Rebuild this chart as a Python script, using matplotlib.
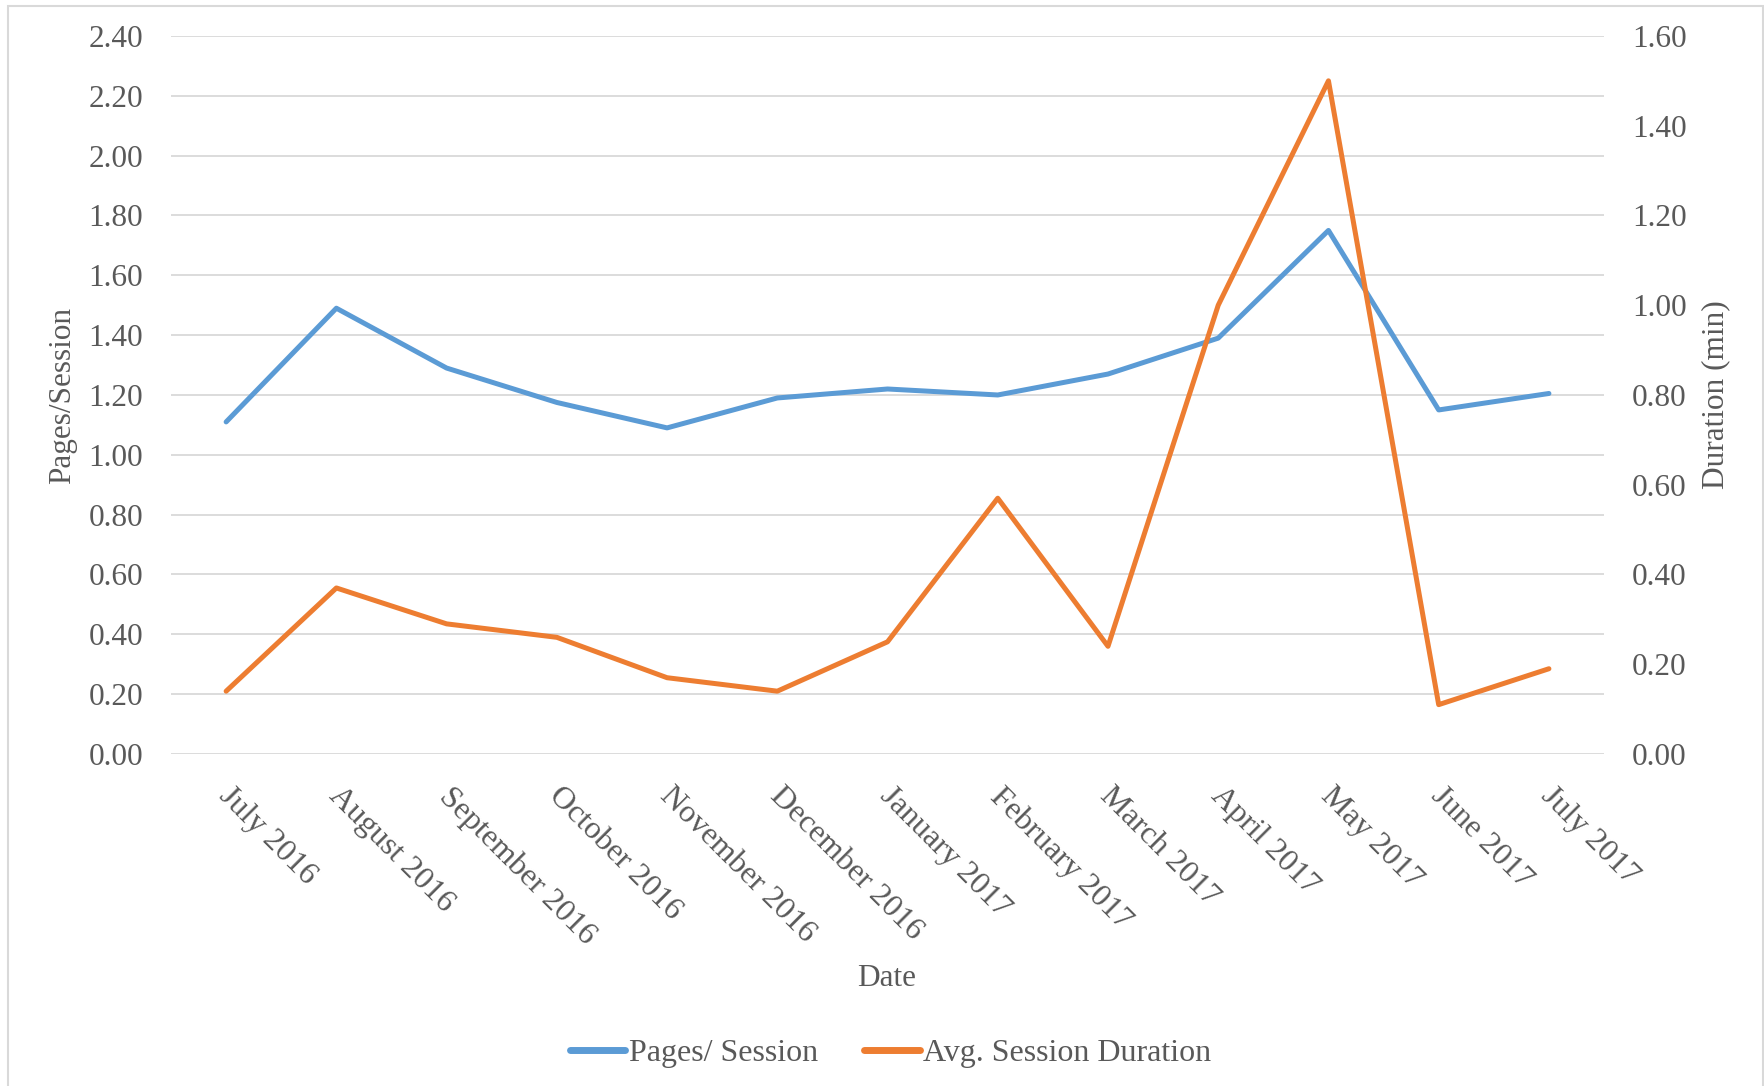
import matplotlib.pyplot as plt
import matplotlib.transforms as mtransforms
from matplotlib.patches import Rectangle

plt.rcParams['font.family'] = ['Liberation Serif', 'DejaVu Serif']

# monthly data
months = ['July 2016', 'August 2016', 'September 2016', 'October 2016',
          'November 2016', 'December 2016', 'January 2017', 'February 2017',
          'March 2017', 'April 2017', 'May 2017', 'June 2017', 'July 2017']
pages_per_session = [1.11, 1.49, 1.29, 1.175, 1.09, 1.19, 1.22, 1.20,
                     1.27, 1.39, 1.75, 1.15, 1.205]
avg_duration = [0.14, 0.37, 0.29, 0.26, 0.17, 0.14, 0.25, 0.57,
                0.24, 1.00, 1.50, 0.11, 0.19]
left_ticks = [0.0, 0.2, 0.4, 0.6, 0.8, 1.0, 1.2, 1.4, 1.6, 1.8, 2.0, 2.2, 2.4]
right_ticks = [0.0, 0.2, 0.4, 0.6, 0.8, 1.0, 1.2, 1.4, 1.6]

blue = '#5B9BD5'
orange = '#ED7D31'
grey_text = '#595959'
grid_col = '#D9D9D9'
fs = 22.5

fig = plt.figure(figsize=(17.65, 10.86), dpi=100)
ax = fig.add_axes([0.0969, 0.3057, 0.8119, 0.6612])
ax2 = ax.twinx()

x = list(range(len(months)))
l1, = ax.plot(x, pages_per_session, color=blue, lw=3.6, solid_joinstyle='round',
              solid_capstyle='round', label='Pages/ Session', zorder=3)
l2, = ax2.plot(x, avg_duration, color=orange, lw=3.6, solid_joinstyle='round',
               solid_capstyle='round', label='Avg. Session Duration', zorder=3)

ax.set_xlim(-0.5, len(months) - 0.5)
ax.set_ylim(0, 2.4)
ax2.set_ylim(0, 1.6)
ax.set_yticks(left_ticks)
ax.set_yticklabels(['%.2f' % v for v in left_ticks])
ax2.set_yticks(right_ticks)
ax2.set_yticklabels(['%.2f' % v for v in right_ticks])

for v in left_ticks:
    ax.axhline(v, color=grid_col, lw=1.3, zorder=0)

for a in (ax, ax2):
    for s in a.spines.values():
        s.set_visible(False)
    a.tick_params(length=0, labelsize=fs, labelcolor=grey_text)
ax.tick_params(axis='y', pad=20)
ax2.tick_params(axis='y', pad=20)

ax.set_xticks(x)
offset = mtransforms.ScaledTranslation(0.07, -0.23, fig.dpi_scale_trans)
ax.set_xticklabels(months, rotation=-45, ha='left', va='top', rotation_mode='anchor',
                   fontsize=23)
for lab in ax.get_xticklabels():
    lab.set_transform(lab.get_transform() + offset)

ax.set_ylabel('Pages/Session', fontsize=fs, color=grey_text, labelpad=8)
ax2.set_ylabel('Duration (min)', fontsize=fs, color=grey_text, rotation=90, labelpad=11)
fig.text(0.5026, 1 - 979 / 1086, 'Date', fontsize=fs, color=grey_text,
         ha='center', va='center')

leg = fig.legend(handles=[l1, l2], loc='center', bbox_to_anchor=(0.5045, 1 - 1053 / 1086),
                 ncol=2, frameon=False, fontsize=23, handlelength=1.75,
                 handletextpad=0.1, columnspacing=1.45)
for t in leg.get_texts():
    t.set_color(grey_text)
for h in leg.legend_handles:
    h.set_linewidth(5)

fig.patches.append(Rectangle((8 / 1765, -0.05), 1755 / 1765, 1.05 - 6 / 1086,
                             transform=fig.transFigure, fill=False,
                             edgecolor=grid_col, lw=1.5))

fig.savefig('out.png', dpi=100)
